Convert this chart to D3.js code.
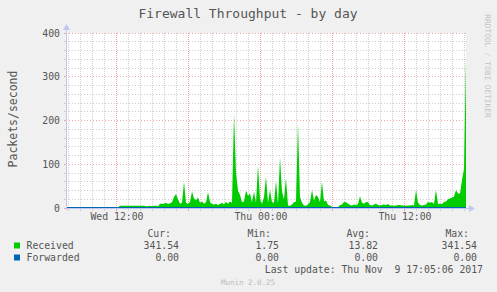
<!DOCTYPE html>
<html>
<head>
<meta charset="utf-8">
<script src="https://cdn.jsdelivr.net/npm/d3@7"></script>
<style>
    body { margin: 0; background: #f0f0f0; }
    text { font-family: 'DejaVu Sans Mono', monospace; }
</style>
</head>
<body>
<div id="chart"></div>
<script>
// Received packets/second, one sample every 10 minutes, oldest first
const received = [
    2, 2, 2, 2, 2, 2, 2, 2, 2, 2, 2, 2, 2, 2, 2, 2, 2, 2, 2, 2, 2, 2, 2, 2, 2, 2, 2,
    5, 5, 5, 5, 5, 5, 5, 5, 5, 5, 5, 5, 5,
    4, 4, 5, 4, 5, 5, 4, 10, 10,
    10, 12, 9, 11, 13, 25, 32, 20, 10, 12, 60,
    12, 9, 14, 38, 22, 18, 24, 12, 15, 10, 13, 36, 14,
    9, 8, 10, 7, 9, 12, 8, 14, 10, 15, 12,
    216, 80, 40, 30, 13, 15, 40, 28, 33, 13, 37, 12, 98,
    20, 10, 25, 72, 12, 41, 13, 12, 62, 10, 116, 37, 20, 68,
    6, 5, 8, 13, 15, 194, 25, 12, 6, 5, 8, 14, 41,
    17, 30, 25, 14, 60, 15, 17, 7, 6, 3, 2, 2, 2, 7, 8, 14, 13, 10,
    7, 6, 8, 7, 9, 27, 12, 10, 14, 13, 7, 6, 8, 10,
    7, 6, 7, 8, 7, 9, 6, 6, 5, 6, 7, 7, 6,
    6, 5, 6, 6, 7, 6, 41, 12, 7, 6, 7, 8, 14, 12, 14, 9, 41,
    9, 10, 9, 14, 15, 20, 22, 24, 26, 41, 33, 33, 64, 90, 341.54
];
// Forwarded is flat zero over the whole day
const forwarded = received.map(() => 0);

const yTicks = [0, 100, 200, 300, 400];
const xLabels = ['2017-11-08T12:00:00Z', '2017-11-09T00:00:00Z', '2017-11-09T12:00:00Z'];

const legendRows = [
    { name: 'Received', color: '#00cc00', cur: '341.54', min: '1.75', avg: '13.82', max: '341.54' },
    { name: 'Forwarded', color: '#0066b3', cur: '0.00', min: '0.00', avg: '0.00', max: '0.00' }
];

const endTime = new Date('2017-11-09T17:05:06Z');
const stepMs = 10 * 60 * 1000;
const startTime = new Date(endTime.getTime() - (received.length - 1) * stepMs);
const timeOf = (i) => new Date(startTime.getTime() + i * stepMs);

const width = 497, height = 292;
const plot = { left: 66, right: 466, top: 33, bottom: 208 };

const svg = d3.select('#chart')
    .append('svg')
    .attr('width', width)
    .attr('height', height);

svg.append('rect')
    .attr('width', width).attr('height', height)
    .attr('fill', '#f0f0f0');

let x = d3.scaleUtc()
    .domain([startTime, endTime])
    .range([plot.left, plot.right]);

let y = d3.scaleLinear()
    .domain([0, 400])
    .range([plot.bottom, plot.top]);

// snap to pixel centres so the dotted lines stay 1px
const px = (v) => Math.floor(v) + 0.5;

// plot canvas
svg.append('rect')
    .attr('x', plot.left).attr('y', plot.top)
    .attr('width', plot.right - plot.left)
    .attr('height', plot.bottom - plot.top)
    .attr('fill', '#ffffff');

const grid = svg.append('g');
const minorColor = '#cfcfcf';
const majorColor = '#f4a3a3';

// minor grid: every 20 units / every hour
grid.selectAll('.hminor')
    .data(d3.range(20, 400, 20).filter((v) => v % 100 !== 0))
    .enter().append('line')
    .attr('x1', plot.left).attr('x2', plot.right)
    .attr('y1', (d) => px(y(d))).attr('y2', (d) => px(y(d)))
    .attr('stroke', minorColor).attr('stroke-dasharray', '1,2');

const hours = d3.utcHour.range(startTime, endTime);
grid.selectAll('.vminor')
    .data(hours.filter((d) => d.getUTCHours() % 6 !== 0))
    .enter().append('line')
    .attr('x1', (d) => px(x(d))).attr('x2', (d) => px(x(d)))
    .attr('y1', plot.top).attr('y2', plot.bottom)
    .attr('stroke', minorColor).attr('stroke-dasharray', '1,1');

// major grid: every 100 units / every 6 hours
grid.selectAll('.hmajor')
    .data(yTicks.slice(1))
    .enter().append('line')
    .attr('x1', plot.left).attr('x2', plot.right)
    .attr('y1', (d) => px(y(d))).attr('y2', (d) => px(y(d)))
    .attr('stroke', majorColor).attr('stroke-dasharray', '1,2');

grid.selectAll('.vmajor')
    .data(hours.filter((d) => d.getUTCHours() % 6 === 0))
    .enter().append('line')
    .attr('x1', (d) => px(x(d))).attr('x2', (d) => px(x(d)))
    .attr('y1', plot.top).attr('y2', plot.bottom)
    .attr('stroke', majorColor).attr('stroke-dasharray', '1,1');

// Received area
const area = d3.area()
    .x((d, i) => x(timeOf(i)))
    .y0(y(0))
    .y1((d) => y(d));

svg.append('path')
    .datum(received)
    .attr('d', area)
    .attr('fill', '#00cc00');

// Forwarded line (sits on zero)
const line = d3.line()
    .x((d, i) => x(timeOf(i)))
    .y((d) => y(d) - 0.5);

svg.append('path')
    .datum(forwarded)
    .attr('d', line)
    .attr('fill', 'none')
    .attr('stroke', '#0066b3')
    .attr('stroke-width', 1)
    .attr('shape-rendering', 'crispEdges');

// axes with rrdtool-style arrows
const axisColor = '#c0c6f2';
const axes = svg.append('g').attr('shape-rendering', 'crispEdges');
axes.append('line')
    .attr('x1', plot.left + 0.5).attr('x2', plot.left + 0.5)
    .attr('y1', plot.top - 4).attr('y2', plot.bottom + 2)
    .attr('stroke', axisColor);
axes.append('line')
    .attr('x1', plot.left - 2).attr('x2', plot.right + 4)
    .attr('y1', plot.bottom + 0.5).attr('y2', plot.bottom + 0.5)
    .attr('stroke', axisColor);
svg.append('path')
    .attr('d', `M${plot.left - 3},${plot.top - 3} L${plot.left + 0.5},${plot.top - 9} L${plot.left + 4},${plot.top - 3} Z`)
    .attr('fill', axisColor);
svg.append('path')
    .attr('d', `M${plot.right + 3},${plot.bottom - 3} L${plot.right + 9},${plot.bottom + 0.5} L${plot.right + 3},${plot.bottom + 4} Z`)
    .attr('fill', axisColor);

// tick marks
axes.selectAll('.ytick')
    .data(d3.range(0, 420, 20))
    .enter().append('line')
    .attr('x1', plot.left - 2).attr('x2', plot.left)
    .attr('y1', (d) => px(y(d))).attr('y2', (d) => px(y(d)))
    .attr('stroke', (d) => d % 100 === 0 ? majorColor : minorColor);
axes.selectAll('.xtick')
    .data(hours)
    .enter().append('line')
    .attr('x1', (d) => px(x(d))).attr('x2', (d) => px(x(d)))
    .attr('y1', plot.bottom + 1).attr('y2', plot.bottom + 3)
    .attr('stroke', (d) => d.getUTCHours() % 6 === 0 ? majorColor : minorColor);

const textColor = '#555555';

// y tick labels
svg.selectAll('.ylabel')
    .data(yTicks)
    .enter().append('text')
    .attr('x', 60)
    .attr('y', (d) => y(d) + 3.5)
    .attr('text-anchor', 'end')
    .style('font-size', '9.8px')
    .attr('fill', textColor)
    .text((d) => d);

// x tick labels
const fmt = d3.utcFormat('%a %H:%M');
svg.selectAll('.xlabel')
    .data(xLabels.map((s) => new Date(s)))
    .enter().append('text')
    .attr('x', (d) => x(d))
    .attr('y', 220)
    .attr('text-anchor', 'middle')
    .style('font-size', '9.8px')
    .attr('fill', textColor)
    .text((d) => fmt(d));

// title
svg.append('text')
    .attr('x', 248).attr('y', 18)
    .attr('text-anchor', 'middle')
    .style('font-size', '13px')
    .attr('fill', textColor)
    .text('Firewall Throughput - by day');

// vertical axis title
svg.append('text')
    .attr('transform', 'translate(17, 119) rotate(-90)')
    .attr('text-anchor', 'middle')
    .style('font-size', '11.5px')
    .attr('fill', textColor)
    .text('Packets/second');

// rrdtool watermark
svg.append('text')
    .attr('transform', 'translate(485, 66) rotate(90)')
    .attr('text-anchor', 'middle')
    .style('font-size', '7.8px')
    .attr('fill', '#c4c4c4')
    .text('RRDTOOL / TOBI OETIKER');

// legend
const cols = [
    { key: 'cur', head: 'Cur:', end: 179 },
    { key: 'min', head: 'Min:', end: 279 },
    { key: 'avg', head: 'Avg:', end: 378 },
    { key: 'max', head: 'Max:', end: 477 }
];

svg.selectAll('.head')
    .data(cols)
    .enter().append('text')
    .attr('x', (d) => d.end - 8)
    .attr('y', 237)
    .attr('text-anchor', 'end')
    .style('font-size', '9.8px')
    .attr('fill', textColor)
    .text((d) => d.head);

let rows = svg.selectAll('.row')
    .data(legendRows)
    .enter()
    .append('g')
    .attr('transform', (d, i) => `translate(0, ${249 + i * 12})`);

rows.append('rect')
    .attr('x', 14).attr('y', -6.5)
    .attr('width', 6).attr('height', 6)
    .attr('fill', (d) => d.color);

rows.append('text')
    .attr('x', 26.5).attr('y', 0)
    .style('font-size', '9.8px')
    .attr('fill', textColor)
    .text((d) => d.name);

cols.forEach((c) => {
    rows.append('text')
        .attr('x', c.end).attr('y', 0)
        .attr('text-anchor', 'end')
        .style('font-size', '9.8px')
        .attr('fill', textColor)
        .text((d) => d[c.key]);
});

svg.append('text')
    .attr('x', 483).attr('y', 273)
    .attr('text-anchor', 'end')
    .style('font-size', '9.8px')
    .style('white-space', 'pre')
    .attr('fill', textColor)
    .text('Last update: Thu Nov  9 17:05:06 2017');

svg.append('text')
    .attr('x', 248).attr('y', 284.5)
    .attr('text-anchor', 'middle')
    .style('font-size', '7.5px')
    .attr('fill', '#bbbbbb')
    .text('Munin 2.0.25');
</script>
</body>
</html>
